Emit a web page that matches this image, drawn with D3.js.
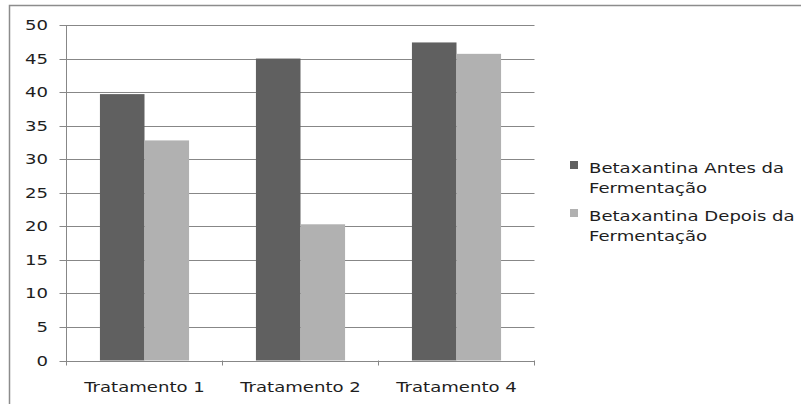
<!DOCTYPE html>
<html>
<head>
<meta charset="utf-8">
<script src="https://cdn.jsdelivr.net/npm/d3@7"></script>
<style>
  body { margin: 0; background: #fff; }
  text { font-family: "DejaVu Sans", Verdana, sans-serif; font-size: 13.5px; fill: #1e1e1e; }
</style>
</head>
<body>
<svg id="svg"></svg>
<script>
// chart data
let categories = ["Tratamento 1", "Tratamento 2", "Tratamento 4"];
let seriesNames = ["Betaxantina Antes da Fermentação", "Betaxantina Depois da Fermentação"];
let legendLines = [["Betaxantina Antes da", "Fermentação"], ["Betaxantina Depois da", "Fermentação"]];
let antes = [39.7, 45.0, 47.4];
let depois = [32.8, 20.3, 45.7];
let yTicks = [0, 5, 10, 15, 20, 25, 30, 35, 40, 45, 50];

let colors = ["#606060", "#b1b1b1"];
let gridColor = "#878787";
let stretch = 1.34; // text in the picture is drawn wide

let winWidth = 801, winHeight = 404;
let plot = { x1: 66.5, x2: 534.5, y1: 25, y2: 360.5 };

let svg = d3.select("#svg").attr("width", winWidth).attr("height", winHeight);

// outer frame (only top and left edges show)
svg.append("path")
   .attr("d", "M9.5," + winHeight + " V5.5 H" + winWidth)
   .attr("fill", "none").attr("stroke", "#8c8c8c").attr("stroke-width", 1.5);

let x = d3.scaleBand().domain(categories).range([plot.x1, plot.x2]).paddingInner(0).paddingOuter(0);
let y = d3.scaleLinear().domain([0, 50]).range([plot.y2, plot.y1]);

// group width: 2 bars, gap 150%
let barW = x.bandwidth() / 3.5;
let xs = d3.scaleBand().domain([0, 1]).range([0, 2 * barW]);

// gridlines with ticks on the left
svg.append("g").selectAll("line")
   .data(yTicks)
   .enter().append("line")
   .attr("x1", plot.x1 - 7).attr("x2", plot.x2)
   .attr("y1", function(d) { return Math.round(y(d)) + 0.5; })
   .attr("y2", function(d) { return Math.round(y(d)) + 0.5; })
   .attr("stroke", gridColor).attr("stroke-width", 1);

// y labels
svg.append("g").selectAll("text")
   .data(yTicks)
   .enter().append("text")
   .attr("text-anchor", "end")
   .attr("transform", function(d) { return "translate(48," + (y(d) + 5) + ") scale(" + stretch + ",1)"; })
   .text(function(d) { return d; });

// bars
let groups = svg.append("g").selectAll("g")
   .data(categories)
   .enter().append("g")
   .attr("transform", function(c) { return "translate(" + (x(c) + (x.bandwidth() - 2 * barW) / 2) + ",0)"; });

groups.each(function(c, i) {
  let vals = [antes[i], depois[i]];
  d3.select(this).selectAll("rect")
    .data(vals)
    .enter().append("rect")
    .attr("x", function(v, j) { return xs(j); })
    .attr("width", xs.bandwidth())
    .attr("y", function(v) { return y(v); })
    .attr("height", function(v) { return y(0) - y(v); })
    .attr("fill", function(v, j) { return colors[j]; });
});

// axes lines
svg.append("line")
   .attr("x1", plot.x1).attr("x2", plot.x1)
   .attr("y1", plot.y1).attr("y2", plot.y2 + 5)
   .attr("stroke", gridColor);
svg.append("line")
   .attr("x1", plot.x1).attr("x2", plot.x2)
   .attr("y1", Math.round(plot.y2) + 0.5).attr("y2", Math.round(plot.y2) + 0.5)
   .attr("stroke", gridColor);
svg.append("g").selectAll("line")
   .data(categories)
   .enter().append("line")
   .attr("x1", function(c) { return x(c) + x.bandwidth(); })
   .attr("x2", function(c) { return x(c) + x.bandwidth(); })
   .attr("y1", plot.y2).attr("y2", plot.y2 + 5)
   .attr("stroke", gridColor);

// x labels
svg.append("g").selectAll("text")
   .data(categories)
   .enter().append("text")
   .attr("text-anchor", "middle")
   .attr("transform", function(c) { return "translate(" + (x(c) + x.bandwidth() / 2) + ",392) scale(" + stretch + ",1)"; })
   .text(function(c) { return c; });

// legend
let legend = svg.append("g").selectAll("g")
   .data(seriesNames)
   .enter().append("g")
   .attr("transform", function(d, i) { return "translate(570," + (161 + i * 48) + ")"; });

legend.append("rect")
   .attr("width", 8).attr("height", 8)
   .attr("fill", function(d, i) { return colors[i]; });

legend.each(function(d, i) {
  let g = d3.select(this);
  legendLines[i].forEach(function(line, k) {
    g.append("text")
     .attr("transform", "translate(19," + (11.5 + k * 20) + ") scale(" + stretch + ",1)")
     .text(line);
  });
});
</script>
</body>
</html>
